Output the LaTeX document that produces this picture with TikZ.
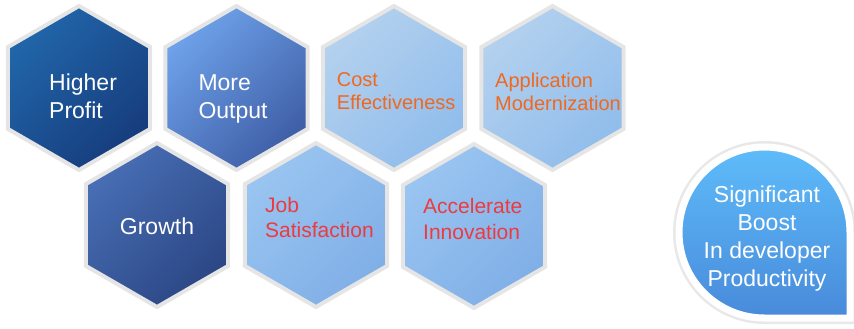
\documentclass[tikz,border=0pt]{standalone}
\usepackage{fontspec}
\setmainfont{Liberation Sans}
\usetikzlibrary{shapes.geometric}
\definecolor{rim}{RGB}{229,229,229}
\definecolor{navyA}{RGB}{33,102,170}
\definecolor{navyB}{RGB}{22,60,124}
\definecolor{midA}{RGB}{110,162,234}
\definecolor{midB}{RGB}{62,94,166}
\definecolor{paleA}{RGB}{180,209,238}
\definecolor{paleB}{RGB}{144,189,236}
\definecolor{deepA}{RGB}{72,110,180}
\definecolor{deepB}{RGB}{43,70,132}
\definecolor{softA}{RGB}{154,197,241}
\definecolor{softB}{RGB}{128,175,231}
\definecolor{boostA}{RGB}{94,188,250}
\definecolor{boostB}{RGB}{72,138,218}
\definecolor{orangetext}{RGB}{240,104,32}
\definecolor{redtext}{RGB}{238,58,62}

\begin{document}
\begin{tikzpicture}[x=1pt,y=-1pt]
	\tikzstyle{hex}=[regular polygon,regular polygon sides=6,shape border rotate=30,
	minimum size=164pt,inner sep=0pt,draw=rim,line width=4pt]
	\tikzstyle{navy}=[hex,top color=navyA,bottom color=navyB,shading angle=45]
	\tikzstyle{mid}=[hex,top color=midA,bottom color=midB,shading angle=45]
	\tikzstyle{pale}=[hex,top color=paleA,bottom color=paleB,shading angle=45]
	\tikzstyle{deep}=[hex,top color=deepA,bottom color=deepB,shading angle=45]
	\tikzstyle{soft}=[hex,top color=softA,bottom color=softB,shading angle=45]
	\tikzstyle{word}=[inner sep=0pt,align=left,anchor=west]
	\useasboundingbox (0,0) rectangle (854,329);
	\node[navy] (profit) at (79,88) {};
	\node[mid] (output) at (236.5,88) {};
	\node[pale] (cost) at (394,88) {};
	\node[pale] (modern) at (552.5,88) {};
	\node[deep] (growth) at (157,225) {};
	\node[soft] (job) at (316,225) {};
	\node[soft] (innov) at (474,226) {};
	\node[word,text=white,font=\fontsize{23}{27.6}\selectfont] (profit text) at (49,96.1) {Higher\\Profit};
	\node[word,text=white,font=\fontsize{23}{27.6}\selectfont] (output text) at (198.3,98.7) {More\\Output};
	\node[word,text=orangetext,font=\fontsize{20}{23}\selectfont] (cost text) at (336.7,91.4) {Cost\\Effectiveness};
	\node[word,text=orangetext,font=\fontsize{20}{23.7}\selectfont] (modern text) at (495,91.9) {Application\\Modernization};
	\node[inner sep=0pt,text=white,font=\fontsize{23}{27.6}\selectfont] (growth text) at (157,226.6) {Growth};
	\node[word,text=redtext,font=\fontsize{21}{25}\selectfont] (job text) at (265,217.5) {Job\\Satisfaction};
	\node[word,text=redtext,font=\fontsize{21}{26}\selectfont] (innov text) at (423,218.5) {Accelerate\\Innovation};
	\draw[draw=white,line width=7pt,top color=boostA,bottom color=boostB,
	preaction={draw=black!9,line width=12pt}]
	(850,232.5) |- (764.5,318) arc[start angle=90,end angle=360,radius=85.5] -- cycle;
	\node[inner sep=0pt,align=center,text=white,font=\fontsize{23}{28}\selectfont] (boost) at (767,238.7) {Significant\\Boost\\In developer\\Productivity};
\end{tikzpicture}
\end{document}
